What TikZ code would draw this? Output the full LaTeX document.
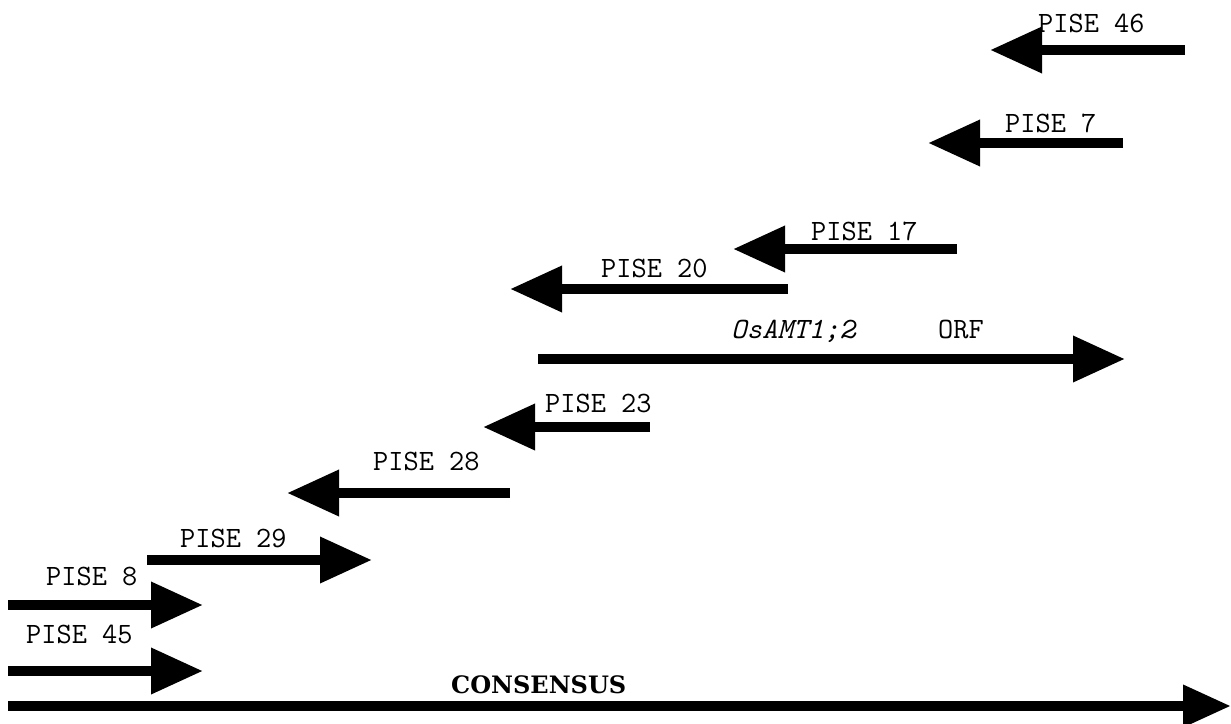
\documentclass[tikz,border=0pt]{standalone}
\usepackage{fontspec}
\newfontfamily\consfont{DejaVu Serif}
\usetikzlibrary{arrows.meta}
\begin{document}
\begin{tikzpicture}[x=1pt,y=-1pt,
  seg/.style={line width=10pt, -{Triangle[length=52pt,width=44pt]}},
  lab/.style={inner sep=0pt, anchor=base west, font=\ttfamily\fontsize{29.5}{29.5}\selectfont}]
\useasboundingbox (0,0) rectangle (1231,723);
% arrow end points
\coordinate (a46s) at (1185,50);  \coordinate (a46e) at (990,50);
\coordinate (a7s)  at (1123,143); \coordinate (a7e)  at (928,143);
\coordinate (a17s) at (957,249);  \coordinate (a17e) at (733,249);
\coordinate (a20s) at (788,289);  \coordinate (a20e) at (510,289);
\coordinate (orfs) at (538,359);  \coordinate (orfe) at (1125,359);
\coordinate (a23s) at (650,427);  \coordinate (a23e) at (483,427);
\coordinate (a28s) at (510,493);  \coordinate (a28e) at (287,493);
\coordinate (a29s) at (147,560);  \coordinate (a29e) at (372,560);
\coordinate (a8s)  at (8,605);    \coordinate (a8e)  at (203,605);
\coordinate (a45s) at (8,671);    \coordinate (a45e) at (203,671);
\coordinate (cons) at (8,706);    \coordinate (cone) at (1231,706);
% arrows
\draw[seg] (a46s) -- (a46e);
\draw[seg] (a7s) -- (a7e);
\draw[seg] (a17s) -- (a17e);
\draw[seg] (a20s) -- (a20e);
\draw[seg] (orfs) -- (orfe);
\draw[seg] (a23s) -- (a23e);
\draw[seg] (a28s) -- (a28e);
\draw[seg] (a29s) -- (a29e);
\draw[seg] (a8s) -- (a8e);
\draw[seg] (a45s) -- (a45e);
\draw[line width=10pt, -{Triangle[length=48pt,width=40pt]}] (cons) -- (cone);
% labels
\node[lab] (l46) at (1038,32) {PISE 46};
\node[lab] (l7)  at (1005,132) {PISE 7};
\node[lab] (l17) at (811,240) {PISE 17};
\node[lab] (l20) at (601,277) {PISE 20};
\node[lab] (lorf) at (731,338) {\itshape OsAMT1;2};
\node[lab] (lorf2) at (938,338) {ORF};
\node[lab] (l23) at (545,412) {PISE 23};
\node[lab] (l28) at (373,470) {PISE 28};
\node[lab] (l29) at (180,547) {PISE 29};
\node[lab] (l8)  at (46,585) {PISE 8};
\node[lab] (l45) at (26,643) {PISE 45};
\node[inner sep=0pt, anchor=base west, font=\consfont\bfseries\fontsize{24}{24}\selectfont] (lcons) at (451,693) {CONSENSUS};
\end{tikzpicture}
\end{document}
